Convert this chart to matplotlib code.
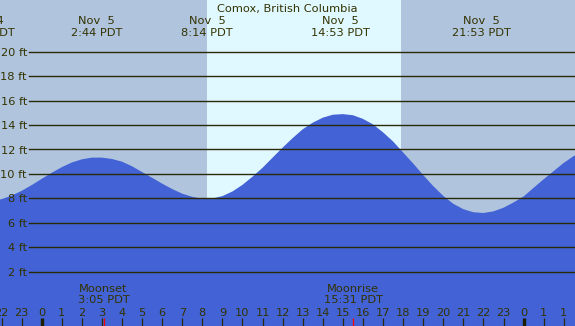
import matplotlib
matplotlib.use("Agg")
import matplotlib.pyplot as plt
import matplotlib.transforms as mtransforms

# ---- data (hours from Nov 5 00:00 PDT) ----
tide_hours = [h / 2 for h in range(-6, 55)]
heights_ft = [7.76, 7.78, 7.93, 8.22, 8.61, 9.08, 9.59, 10.09, 10.55, 10.93,
              11.19, 11.33, 11.33, 11.22, 11.0, 10.62, 10.15, 9.68, 9.2, 8.76,
              8.38, 8.12, 7.96, 7.98, 8.18, 8.56, 9.1, 9.77, 10.5, 11.33,
              12.15, 12.93, 13.65, 14.19, 14.6, 14.84, 14.89, 14.8, 14.5, 14.05,
              13.4, 12.65, 11.75, 10.85, 9.9, 9.0, 8.2, 7.55, 7.11, 6.86,
              6.8, 6.93, 7.23, 7.66, 8.15, 8.86, 9.56, 10.23, 10.9, 11.46,
              11.93]

tide_event_hours = [-2.8, 2.733, 8.233, 14.883, 21.883]
tide_event_dates = ["Nov  4", "Nov  5", "Nov  5", "Nov  5", "Nov  5"]
tide_event_times = ["21:12 PDT", "2:44 PDT", "8:14 PDT", "14:53 PDT", "21:53 PDT"]

sunrise_hour = 8.233
sunset_hour = 17.883

moon_event_hours = [3.083, 15.517]
moon_event_names = ["Moonset", "Moonrise"]
moon_event_times = ["3:05 PDT", "15:31 PDT"]

tick_hours = list(range(-2, 27))
tick_labels = ["22", "23"] + [str(i) for i in range(24)] + ["0", "1", "1"]

grid_levels_ft = [2, 4, 6, 8, 10, 12, 14, 16, 18, 20]
grid_labels = [f"{g} ft" for g in grid_levels_ft]

title = "Comox, British Columbia"

# ---- style ----
W, H = 575, 326
night_col = "#B0C4DE"
day_col = "#E0F8FF"
water_col = "#4262D6"
text_col = "#333300"
grid_col = "#2A2A08"

x_min, x_max = -2.077, 26.56
y_min, y_max = -2.45, 24.23

plt.rcParams['font.family'] = ['DejaVu Sans']
fs = 8.2

fig = plt.figure(figsize=(W / 100, H / 100), dpi=100)
ax = fig.add_axes([0, 0, 1, 1])
ax.set_xlim(x_min, x_max)
ax.set_ylim(y_min, y_max)
ax.axis("off")

ax.axvspan(x_min, sunrise_hour, color=night_col, lw=0, zorder=0)
ax.axvspan(sunrise_hour, sunset_hour, color=day_col, lw=0, zorder=0)
ax.axvspan(sunset_hour, x_max, color=night_col, lw=0, zorder=0)

ax.fill_between(tide_hours, heights_ft, y_min, color=water_col, lw=0, zorder=1)

for g, lab in zip(grid_levels_ft, grid_labels):
    ax.axhline(g, xmin=29 / W, xmax=1, color=grid_col, lw=1.0, zorder=2)
    ax.annotate(lab, xy=(27 / W, g), xycoords=("axes fraction", "data"),
                xytext=(0, -3.0), textcoords="offset points",
                ha="right", va="baseline", fontsize=fs, color=text_col, zorder=3)

def fy(px):
    return 1 - px / H

trans = mtransforms.blended_transform_factory(ax.transData, ax.transAxes)

ax.text(0.5 * (x_min + x_max), fy(12), title, transform=trans, ha="center",
        va="baseline", fontsize=fs, color=text_col, zorder=4)
for h, d, t in zip(tide_event_hours, tide_event_dates, tide_event_times):
    ax.text(h, fy(24), d, transform=trans, ha="center", va="baseline",
            fontsize=fs, color=text_col, zorder=4)
    ax.text(h, fy(36), t, transform=trans, ha="center", va="baseline",
            fontsize=fs, color=text_col, zorder=4)

tick_top, tick_bot = fy(318), fy(326.5)
for h, lab in zip(tick_hours, tick_labels):
    if h % 24 == 0:
        ax.plot([h, h], [tick_bot, tick_top], transform=trans, color="#1E1E00",
                lw=2.4, solid_capstyle="butt", zorder=4)
    else:
        ax.plot([h, h], [tick_bot, tick_top], transform=trans, color=grid_col,
                lw=0.9, solid_capstyle="butt", zorder=4)
    ax.text(h, fy(316), lab, transform=trans, ha="center", va="baseline",
            fontsize=fs, color=text_col, zorder=4)

for h, n, t in zip(moon_event_hours, moon_event_names, moon_event_times):
    ax.plot([h, h], [tick_bot, tick_top], transform=trans, color="#FF0000",
            lw=0.9, solid_capstyle="butt", zorder=5)
    ax.text(h, fy(291.7), n, transform=trans, ha="center", va="baseline",
            fontsize=fs, color=text_col, zorder=4)
    ax.text(h, fy(303.3), t, transform=trans, ha="center", va="baseline",
            fontsize=fs, color=text_col, zorder=4)

fig.savefig("out.png", dpi=100)
